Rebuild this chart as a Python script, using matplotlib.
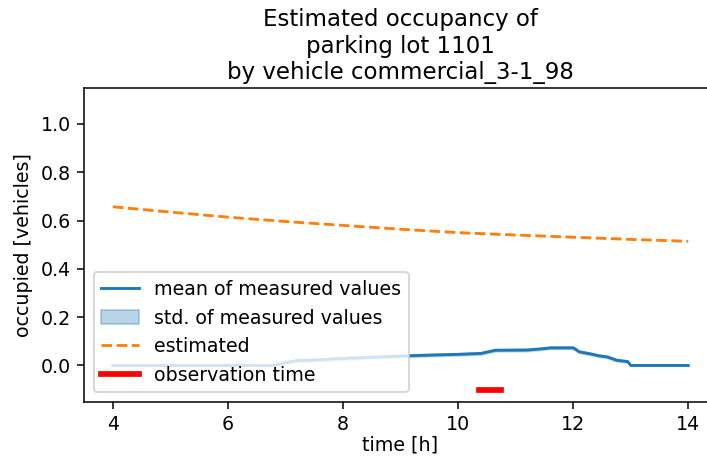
import numpy as np
import matplotlib
matplotlib.use("Agg")
import matplotlib.pyplot as plt

# Measured occupancy (mean and spread over repeated measurements)
t_meas = [4.0, 6.8, 7.0, 7.2, 7.5, 8.0, 8.5, 9.0, 9.5, 10.0, 10.4, 10.55, 10.65,
          11.2, 11.5, 11.6, 12.0, 12.05, 12.1, 12.3, 12.45, 12.6, 12.75, 12.95,
          13.0, 14.0]
mean_meas = [0.0, 0.0, 0.012, 0.02, 0.023, 0.029, 0.034, 0.039, 0.043, 0.046,
             0.05, 0.058, 0.063, 0.064, 0.070, 0.073, 0.073, 0.066, 0.057,
             0.048, 0.040, 0.035, 0.022, 0.016, 0.0, 0.0]
std_meas = [0.0, 0.0, 0.004, 0.004, 0.004, 0.004, 0.004, 0.004, 0.004, 0.004,
            0.004, 0.004, 0.004, 0.004, 0.004, 0.004, 0.004, 0.004, 0.004,
            0.004, 0.004, 0.004, 0.004, 0.004, 0.0, 0.0]

# Model estimate
t_est = [4, 5, 6, 7, 8, 9, 10, 11, 12, 13, 14]
estimated = [0.657, 0.635, 0.614, 0.596, 0.580, 0.564, 0.550, 0.540, 0.531,
             0.522, 0.514]

# Observation window
obs_time = [10.37, 10.74]
obs_level = -0.1

DPI = 137
W, H = 707, 464
fig = plt.figure(figsize=(W / DPI, H / DPI), dpi=DPI)
ax = fig.add_axes([84 / W, 1 - 401.7 / H, (717 - 84) / W, (401.7 - 87.7) / H])

t_m = np.array(t_meas)
m = np.array(mean_meas)
s = np.array(std_meas)

ax.plot(t_m, m, color="C0", lw=1.5, label="mean of measured values")
ax.fill_between(t_m, m - s, m + s, color="C0", alpha=0.3,
                label="std. of measured values")
ax.plot(t_est, estimated, color="C1", ls="--", lw=1.5, label="estimated")
ax.plot(obs_time, [obs_level, obs_level], color="red", lw=3,
        label="observation time")

ax.set_xlim(3.5, 14.5)
ax.set_ylim(-0.15, 1.15)
ax.set_xticks([4, 6, 8, 10, 12, 14])
ax.set_yticks([0.0, 0.2, 0.4, 0.6, 0.8, 1.0])
ax.set_xlabel("time [h]", labelpad=1)
ax.set_ylabel("occupied [vehicles]")
ax.set_title("Estimated occupancy of\nparking lot 1101\nby vehicle commercial_3-1_98",
             pad=4.5)
ax.legend(loc="lower left")

fig.savefig("out.png", dpi=DPI)
